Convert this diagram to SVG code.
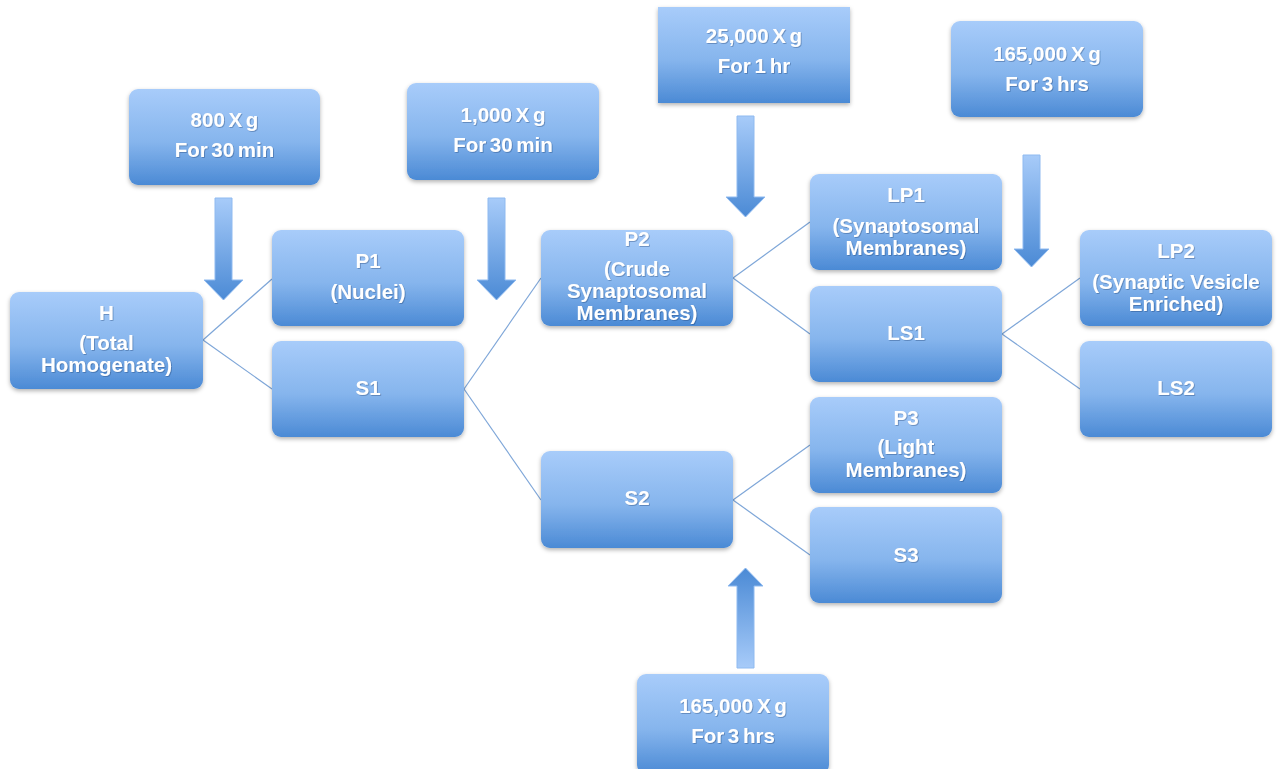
<svg xmlns="http://www.w3.org/2000/svg" width="1278" height="769" viewBox="0 0 1278 769">
<defs>
<linearGradient id="box" x1="0" y1="0" x2="0" y2="1">
<stop offset="0" stop-color="#a8ccfa"/>
<stop offset="0.55" stop-color="#86b5ed"/>
<stop offset="1" stop-color="#4b8ad5"/>
</linearGradient>
<linearGradient id="arrDown" x1="0" y1="0" x2="0" y2="1">
<stop offset="0" stop-color="#a7cbf9"/>
<stop offset="1" stop-color="#4b8ad5"/>
</linearGradient>
<linearGradient id="arrUp" x1="0" y1="1" x2="0" y2="0">
<stop offset="0" stop-color="#a7cbf9"/>
<stop offset="1" stop-color="#4b8ad5"/>
</linearGradient>
<filter id="shadow" x="-10%" y="-10%" width="120%" height="130%">
<feDropShadow dx="0" dy="2" stdDeviation="2" flood-color="#000" flood-opacity="0.3"/>
</filter>
<filter id="tshadow" x="-10%" y="-20%" width="120%" height="150%">
<feDropShadow dx="0.8" dy="0.8" stdDeviation="0.6" flood-color="#1a3a6a" flood-opacity="0.45"/>
</filter>
</defs>
<style>
.node rect { fill: url(#box); filter: url(#shadow); }
.node text { font-family: "Liberation Sans", Arial, sans-serif; font-weight: bold; font-size: 20.5px; fill: #ffffff; text-anchor: middle; filter: url(#tshadow); }
.spec text { word-spacing: -2px; }
.conn line { stroke: #7ea6d8; stroke-width: 1.2; }
.arrow { stroke: #8fbaf0; stroke-width: 1; }
</style>
<rect width="1278" height="769" fill="#ffffff"/>

<g id="connectors" class="conn">
<line x1="203" y1="340" x2="272" y2="279"/>
<line x1="203" y1="340" x2="272" y2="389"/>
<line x1="464" y1="389" x2="541" y2="278"/>
<line x1="464" y1="389" x2="541" y2="500"/>
<line x1="733" y1="278" x2="810" y2="222"/>
<line x1="733" y1="278" x2="810" y2="334"/>
<line x1="733" y1="500" x2="810" y2="445"/>
<line x1="733" y1="500" x2="810" y2="555"/>
<line x1="1002" y1="334" x2="1080" y2="278"/>
<line x1="1002" y1="334" x2="1080" y2="389"/>
</g>

<g id="arrows">
<polygon id="arrow1" class="arrow" fill="url(#arrDown)" points="215,198 232,198 232,280 243,280 223.5,300 204,280 215,280"/>
<polygon id="arrow2" class="arrow" fill="url(#arrDown)" points="488,198 505,198 505,280 516,280 496.5,300 477,280 488,280"/>
<polygon id="arrow3" class="arrow" fill="url(#arrDown)" points="737,116 754,116 754,197 765,197 745.5,217 726,197 737,197"/>
<polygon id="arrow4" class="arrow" fill="url(#arrDown)" points="1023,155 1040,155 1040,249 1049,249 1031.5,267 1014,249 1023,249"/>
<polygon id="arrow5" class="arrow" fill="url(#arrUp)" points="737,668 754,668 754,586 763,586 745.5,568 728,586 737,586"/>
</g>

<g id="spin800" class="node spec">
<rect x="129" y="89" width="191" height="96" rx="9"/>
<text x="224.5" y="127">800 X g</text>
<text x="224.5" y="157">For 30 min</text>
</g>
<g id="spin1000" class="node spec">
<rect x="407" y="83" width="192" height="97" rx="9"/>
<text x="503" y="122">1,000 X g</text>
<text x="503" y="152">For 30 min</text>
</g>
<g id="spin25000" class="node spec">
<rect x="658" y="7" width="192" height="96"/>
<text x="754" y="43">25,000 X g</text>
<text x="754" y="73">For 1 hr</text>
</g>
<g id="spin165000a" class="node spec">
<rect x="951" y="21" width="192" height="96" rx="9"/>
<text x="1047" y="61">165,000 X g</text>
<text x="1047" y="91">For 3 hrs</text>
</g>
<g id="spin165000b" class="node spec">
<rect x="637" y="674" width="192" height="100" rx="9"/>
<text x="733" y="713">165,000 X g</text>
<text x="733" y="743">For 3 hrs</text>
</g>

<g id="H" class="node">
<rect x="10" y="292" width="193" height="97" rx="9"/>
<text x="106.5" y="320">H</text>
<text x="106.5" y="350">(Total</text>
<text x="106.5" y="372">Homogenate)</text>
</g>
<g id="P1" class="node">
<rect x="272" y="230" width="192" height="96" rx="9"/>
<text x="368" y="268">P1</text>
<text x="368" y="299">(Nuclei)</text>
</g>
<g id="S1" class="node">
<rect x="272" y="341" width="192" height="96" rx="9"/>
<text x="368" y="395">S1</text>
</g>
<g id="P2" class="node">
<rect x="541" y="230" width="192" height="96" rx="9"/>
<text x="637" y="246">P2</text>
<text x="637" y="276">(Crude</text>
<text x="637" y="298">Synaptosomal</text>
<text x="637" y="320">Membranes)</text>
</g>
<g id="S2" class="node">
<rect x="541" y="451" width="192" height="97" rx="9"/>
<text x="637" y="505">S2</text>
</g>
<g id="LP1" class="node">
<rect x="810" y="174" width="192" height="96" rx="9"/>
<text x="906" y="202">LP1</text>
<text x="906" y="233">(Synaptosomal</text>
<text x="906" y="255">Membranes)</text>
</g>
<g id="LS1" class="node">
<rect x="810" y="286" width="192" height="96" rx="9"/>
<text x="906" y="340">LS1</text>
</g>
<g id="P3" class="node">
<rect x="810" y="397" width="192" height="96" rx="9"/>
<text x="906" y="425">P3</text>
<text x="906" y="454">(Light</text>
<text x="906" y="477">Membranes)</text>
</g>
<g id="S3" class="node">
<rect x="810" y="507" width="192" height="96" rx="9"/>
<text x="906" y="562">S3</text>
</g>
<g id="LP2" class="node">
<rect x="1080" y="230" width="192" height="96" rx="9"/>
<text x="1176" y="258">LP2</text>
<text x="1176" y="289">(Synaptic Vesicle</text>
<text x="1176" y="311">Enriched)</text>
</g>
<g id="LS2" class="node">
<rect x="1080" y="341" width="192" height="96" rx="9"/>
<text x="1176" y="395">LS2</text>
</g>
</svg>
